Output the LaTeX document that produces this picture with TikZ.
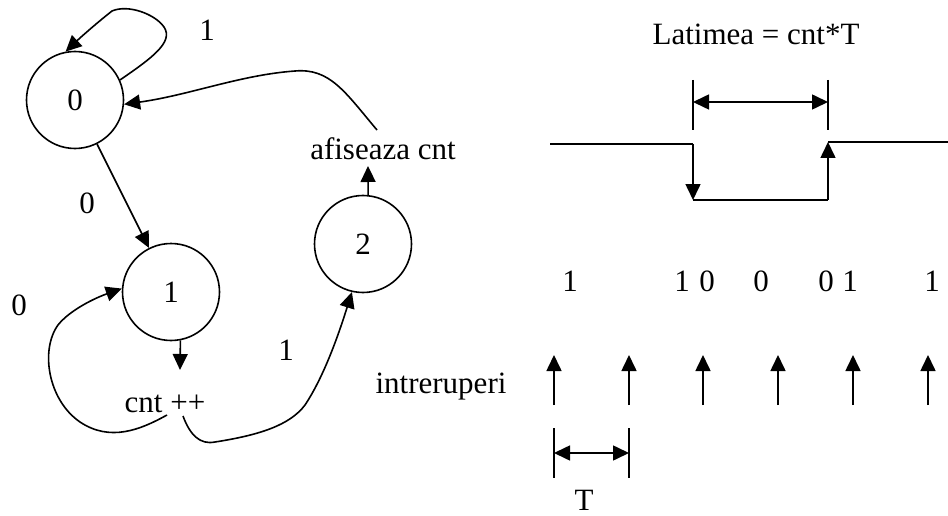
\documentclass[tikz,border=0pt]{standalone}
\usepackage{fontspec}
\setmainfont{Liberation Serif}
\usetikzlibrary{arrows.meta}
\begin{document}
\begin{tikzpicture}[x=1pt,y=-1pt,
  every node/.style={font=\fontsize{31}{37}\selectfont, inner sep=0pt},
  state/.style={draw, circle, minimum size=97pt, line width=1.6pt},
  lbl/.style={anchor=base},
  ln/.style={line width=1.6pt},
  arr/.style={line width=1.6pt, -{Triangle[length=16pt,width=15pt]}},
  darr/.style={line width=1.6pt, {Triangle[length=16pt,width=15pt]}-{Triangle[length=16pt,width=15pt]}}]
\useasboundingbox (0,0) rectangle (948,516);

% ---------- state diagram ----------
\node[state] (c0) at (75,100) {0};
\node[state] (c1) at (171,292) {1};
\node[state] (c2) at (363,244) {2};

\node[lbl] (af) at (383,160) {afiseaza cnt};
\node[lbl] (cnt) at (165,412) {cnt ++};

\node[lbl] (l1a) at (207,41) {1};
\node[lbl] (l0a) at (87,213) {0};
\node[lbl] (l0b) at (19,315) {0};
\node[lbl] (l1b) at (286,360) {1};

\coordinate (afbot) at (368,166);
\coordinate (aftop) at (377,130);
\coordinate (cnttop) at (180,370);
\coordinate (cntL) at (167,415);
\coordinate (cntR) at (183,416);

% self loop on 0
\draw[arr] (c0.24) .. controls (152,58) and (174,42) .. (164,27)
  .. controls (155,14) and (128,4) .. (112,11)
  .. controls (98,22) and (82,36) .. (c0.101);
% 0 -> 1
\draw[arr] (c0) -- (c1);
% 1 -> cnt++
\draw[arr] (c1.-79) -- (cnttop);
% loop cnt++ -> 1
\draw[arr] (cntL) .. controls (140,430) and (110,442) .. (80,422)
  .. controls (48,400) and (40,350) .. (58,325)
  .. controls (70,310) and (95,298) .. (c1.176);
% cnt++ -> 2
\draw[arr] (cntR) .. controls (190,435) and (200,445) .. (215,442)
  .. controls (260,435) and (290,425) .. (305,405)
  .. controls (325,375) and (340,330) .. (c2.-103);
% 2 -> afiseaza
\draw[arr] (c2.84) -- (afbot);
% afiseaza -> 0
\draw[arr] (aftop) .. controls (345,92) and (330,68) .. (295,71)
  .. controls (240,75) and (190,95) .. (c0.-5);

% ---------- timing diagram ----------
\node[lbl] (lat) at (756,45) {Latimea = cnt*T};
\coordinate (w0) at (550,144);
\coordinate (w1) at (693,144);
\coordinate (w2) at (693,200);
\coordinate (w3) at (828,200);
\coordinate (w4) at (828,142);
\coordinate (w5) at (948,142);
\draw[ln] (w0) -- (w1);
\draw[arr] (w1) -- (w2);
\draw[ln] (w2) -- (w3);
\draw[arr] (w3) -- (w4);
\draw[ln] (w4) -- (w5);

\coordinate (t1a) at (693,80);
\coordinate (t1b) at (693,130);
\coordinate (t2a) at (828,80);
\coordinate (t2b) at (828,130);
\draw[ln] (t1a) -- (t1b);
\draw[ln] (t2a) -- (t2b);
\coordinate (d1) at (693,102);
\coordinate (d2) at (828,102);
\draw[darr] (d1) -- (d2);

\node[lbl] (b1) at (570,291) {1};
\node[lbl] (b2) at (682,291) {1};
\node[lbl] (b3) at (707,291) {0};
\node[lbl] (b4) at (761,291) {0};
\node[lbl] (b5) at (826,291) {0};
\node[lbl] (b6) at (850,291) {1};
\node[lbl] (b7) at (932,291) {1};

\node[lbl] (intr) at (441,393) {intreruperi};
\foreach \x [count=\i] in {554,629,703,778,853,928} {
  \coordinate (ia\i) at (\x,405);
  \coordinate (ib\i) at (\x,355);
  \draw[arr] (ia\i) -- (ib\i);
}

\coordinate (s1a) at (554,428);
\coordinate (s1b) at (554,478);
\coordinate (s2a) at (629,428);
\coordinate (s2b) at (629,478);
\draw[ln] (s1a) -- (s1b);
\draw[ln] (s2a) -- (s2b);
\coordinate (e1) at (554,453);
\coordinate (e2) at (629,453);
\draw[darr] (e1) -- (e2);
\node[lbl] (Tl) at (584,510) {T};
\end{tikzpicture}
\end{document}
